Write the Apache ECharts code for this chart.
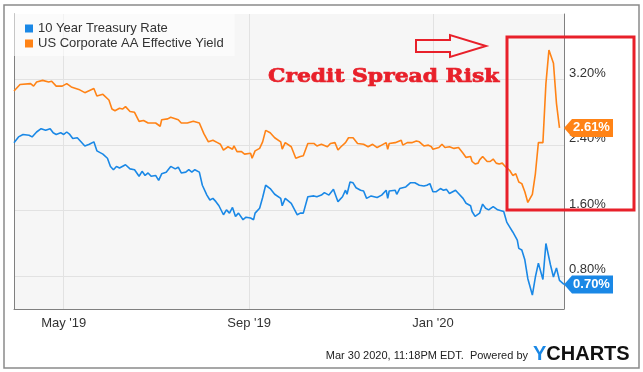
<!DOCTYPE html>
<html><head><meta charset="utf-8">
<script src="https://cdn.jsdelivr.net/npm/echarts@6/dist/echarts.min.js"></script>
<style>html,body{margin:0;padding:0;background:#fff}#c{width:643px;height:372px}</style>
</head><body><div id="c"></div>
<script>
const seriesNames = ['10 Year Treasury Rate', 'US Corporate AA Effective Yield'];
const seriesColors = ['#1a88e6', '#ff8316'];

const treasuryDates = ['2019-03-29','2019-04-01','2019-04-04','2019-04-08','2019-04-10','2019-04-13','2019-04-16','2019-04-19','2019-04-22','2019-04-24','2019-04-26','2019-04-29','2019-05-01','2019-05-03','2019-05-05','2019-05-07','2019-05-10','2019-05-12','2019-05-15','2019-05-18','2019-05-21','2019-05-23','2019-05-27','2019-05-30','2019-06-01','2019-06-03','2019-06-05','2019-06-07','2019-06-11','2019-06-14','2019-06-17','2019-06-20','2019-06-22','2019-06-24','2019-06-26','2019-06-28','2019-07-01','2019-07-03','2019-07-05','2019-07-08','2019-07-11','2019-07-14','2019-07-16','2019-07-18','2019-07-21','2019-07-23','2019-07-25','2019-07-27','2019-07-30','2019-08-01','2019-08-04','2019-08-06','2019-08-08','2019-08-10','2019-08-12','2019-08-15','2019-08-17','2019-08-19','2019-08-21','2019-08-23','2019-08-25','2019-08-28','2019-08-30','2019-09-02','2019-09-04','2019-09-05','2019-09-08','2019-09-10','2019-09-12','2019-09-15','2019-09-18','2019-09-22','2019-09-23','2019-09-25','2019-09-29','2019-10-03','2019-10-05','2019-10-07','2019-10-10','2019-10-14','2019-10-16','2019-10-19','2019-10-21','2019-10-24','2019-10-27','2019-10-28','2019-10-30','2019-11-02','2019-11-04','2019-11-05','2019-11-07','2019-11-09','2019-11-11','2019-11-14','2019-11-16','2019-11-18','2019-11-21','2019-11-25','2019-11-28','2019-12-01','2019-12-02','2019-12-03','2019-12-07','2019-12-08','2019-12-10','2019-12-14','2019-12-17','2019-12-20','2019-12-23','2019-12-26','2019-12-28','2019-12-30','2020-01-01','2020-01-03','2020-01-06','2020-01-08','2020-01-10','2020-01-12','2020-01-16','2020-01-18','2020-01-21','2020-01-23','2020-01-26','2020-01-27','2020-01-29','2020-02-01','2020-02-03','2020-02-05','2020-02-07','2020-02-10','2020-02-13','2020-02-17','2020-02-19','2020-02-21','2020-02-23','2020-02-26','2020-02-27','2020-02-29','2020-03-02','2020-03-04','2020-03-07','2020-03-09','2020-03-11','2020-03-14','2020-03-16','2020-03-19','2020-03-21','2020-03-23','2020-03-25','2020-03-28'];
const treasuryRate = [2.43,2.50,2.53,2.52,2.50,2.56,2.60,2.58,2.60,2.55,2.53,2.55,2.53,2.56,2.53,2.48,2.49,2.45,2.39,2.41,2.44,2.33,2.29,2.24,2.14,2.10,2.14,2.12,2.16,2.11,2.10,2.02,2.08,2.03,2.06,2.02,2.03,1.97,2.05,2.07,2.14,2.11,2.13,2.06,2.07,2.10,2.07,2.10,2.07,1.91,1.79,1.73,1.75,1.71,1.66,1.55,1.61,1.57,1.64,1.53,1.57,1.49,1.52,1.51,1.49,1.57,1.63,1.76,1.91,1.87,1.80,1.75,1.66,1.75,1.69,1.55,1.57,1.57,1.77,1.78,1.77,1.79,1.82,1.79,1.86,1.81,1.71,1.77,1.85,1.80,1.95,1.94,1.88,1.85,1.84,1.75,1.78,1.76,1.79,1.85,1.75,1.84,1.85,1.80,1.87,1.89,1.94,1.94,1.91,1.90,1.91,1.93,1.83,1.83,1.87,1.85,1.86,1.81,1.85,1.81,1.75,1.69,1.66,1.59,1.53,1.57,1.68,1.63,1.61,1.65,1.61,1.59,1.46,1.40,1.34,1.24,1.14,1.12,1.00,0.77,0.57,0.79,0.96,0.76,1.20,0.94,0.79,0.90,0.75,0.70];

const corpDates = ['2019-03-29','2019-04-02','2019-04-09','2019-04-11','2019-04-13','2019-04-17','2019-04-21','2019-04-23','2019-04-26','2019-04-30','2019-05-03','2019-05-06','2019-05-11','2019-05-15','2019-05-21','2019-05-23','2019-05-27','2019-05-31','2019-06-02','2019-06-04','2019-06-07','2019-06-09','2019-06-11','2019-06-14','2019-06-17','2019-06-20','2019-06-23','2019-06-26','2019-07-01','2019-07-04','2019-07-05','2019-07-09','2019-07-11','2019-07-16','2019-07-18','2019-07-22','2019-07-26','2019-07-30','2019-08-02','2019-08-05','2019-08-08','2019-08-11','2019-08-13','2019-08-15','2019-08-18','2019-08-21','2019-08-22','2019-08-24','2019-08-27','2019-08-29','2019-09-02','2019-09-03','2019-09-05','2019-09-08','2019-09-10','2019-09-12','2019-09-15','2019-09-18','2019-09-22','2019-09-23','2019-09-25','2019-09-29','2019-10-02','2019-10-05','2019-10-07','2019-10-10','2019-10-14','2019-10-16','2019-10-19','2019-10-23','2019-10-25','2019-10-28','2019-10-30','2019-11-01','2019-11-04','2019-11-06','2019-11-09','2019-11-12','2019-11-16','2019-11-19','2019-11-22','2019-11-25','2019-11-28','2019-12-01','2019-12-02','2019-12-03','2019-12-07','2019-12-08','2019-12-11','2019-12-12','2019-12-15','2019-12-18','2019-12-21','2019-12-23','2019-12-26','2019-12-29','2019-12-31','2020-01-01','2020-01-05','2020-01-07','2020-01-09','2020-01-12','2020-01-15','2020-01-18','2020-01-21','2020-01-23','2020-01-26','2020-01-27','2020-01-29','2020-01-31','2020-02-01','2020-02-03','2020-02-06','2020-02-08','2020-02-10','2020-02-12','2020-02-14','2020-02-16','2020-02-18','2020-02-21','2020-02-23','2020-02-25','2020-02-27','2020-02-29','2020-03-02','2020-03-04','2020-03-07','2020-03-09','2020-03-11','2020-03-14','2020-03-16','2020-03-18','2020-03-21','2020-03-23','2020-03-25'];
const corpYield = [3.06,3.14,3.15,3.12,3.17,3.19,3.17,3.18,3.12,3.12,3.15,3.11,3.08,3.04,3.09,3.00,3.02,2.95,2.84,2.82,2.85,2.84,2.87,2.81,2.80,2.69,2.70,2.67,2.67,2.63,2.71,2.72,2.74,2.71,2.67,2.67,2.69,2.67,2.54,2.44,2.46,2.43,2.41,2.34,2.38,2.35,2.39,2.32,2.32,2.29,2.30,2.24,2.33,2.36,2.44,2.58,2.55,2.49,2.44,2.35,2.43,2.38,2.24,2.26,2.27,2.42,2.42,2.39,2.41,2.38,2.42,2.43,2.34,2.38,2.43,2.49,2.49,2.42,2.41,2.38,2.41,2.37,2.40,2.43,2.35,2.42,2.43,2.42,2.46,2.40,2.43,2.43,2.45,2.44,2.39,2.40,2.38,2.35,2.37,2.41,2.37,2.38,2.36,2.37,2.30,2.25,2.26,2.20,2.17,2.18,2.22,2.26,2.20,2.20,2.23,2.18,2.17,2.18,2.14,2.09,2.03,2.05,1.95,1.93,1.83,1.70,1.80,2.05,2.43,2.43,3.15,3.56,3.40,2.91,2.61];

const lastValues = [0.70, 2.61];
const xRange = ['2019-03-29', '2020-03-28'];
const xTickDates = ['2019-05-01', '2019-09-01', '2020-01-01'];
const xTickLabels = ["May '19", "Sep '19", "Jan '20"];
const yRange = [0.4, 4.0];
const yTicks = [0.8, 1.6, 2.4, 3.2];

function ts(s) { const p = s.split('-').map(Number); return Date.UTC(p[0], p[1] - 1, p[2]); }
const xTicks = xTickDates.map(ts);
const font = 'Liberation Sans, Arial, sans-serif';
const red = '#e8202a';

const chart = echarts.init(document.getElementById('c'), null, { renderer: 'canvas' });

function tag(i) {
  return {
    silent: true,
    symbol: 'path://M0,9L8,0L49,0L49,18L8,18Z',
    symbolSize: [49, 18],
    symbolOffset: ['50%', 0],
    itemStyle: { color: seriesColors[i] },
    label: { show: true, position: 'inside', offset: [3, 0], color: '#fff', fontWeight: 'bold', fontSize: 13, fontFamily: font,
      formatter: () => lastValues[i].toFixed(2) + '%' },
    data: [{ coord: [ts(xRange[1]), lastValues[i]] }]
  };
}

chart.setOption({
  animation: false,
  backgroundColor: '#fff',
  grid: { left: 14, right: 79, top: 14, bottom: 63, show: true, backgroundColor: '#f6f6f6', borderWidth: 0 },
  legend: {
    left: 14, top: 14, orient: 'vertical', icon: 'rect', itemWidth: 8, itemHeight: 8, itemGap: 2,
    padding: [8, 11, 6, 11], backgroundColor: 'rgba(255,255,255,0.55)',
    textStyle: { fontSize: 13, color: '#333', fontFamily: font },
    data: seriesNames
  },
  xAxis: {
    type: 'value', min: ts(xRange[0]), max: ts(xRange[1]),
    axisLine: { show: true, lineStyle: { color: '#808080', width: 1 } },
    axisTick: { show: false, customValues: xTicks },
    axisLabel: { customValues: xTicks, formatter: (v) => xTickLabels[xTicks.indexOf(v)] || '', color: '#333', fontSize: 13, margin: 8, fontFamily: font },
    splitLine: { show: true, lineStyle: { color: '#e2e2e2', width: 1 } }
  },
  yAxis: [{
    type: 'value', position: 'right', min: yRange[0], max: yRange[1],
    axisLine: { show: true, lineStyle: { color: '#808080' } },
    axisTick: { show: false, customValues: yTicks },
    axisLabel: { customValues: yTicks, formatter: (v) => v.toFixed(2) + '%', color: '#333', fontSize: 13, margin: 5, fontFamily: font, verticalAlign: 'bottom', lineHeight: 13 },
    splitLine: { show: true, lineStyle: { color: '#e2e2e2', width: 1 } }
  }, {
    type: 'value', position: 'left', min: yRange[0], max: yRange[1],
    axisLine: { show: true, lineStyle: { color: '#808080' } },
    axisTick: { show: false }, axisLabel: { show: false }, splitLine: { show: false }
  }],
  series: [{
    name: seriesNames[0], type: 'line', showSymbol: false, color: seriesColors[0],
    lineStyle: { width: 1.6, color: seriesColors[0] },
    data: treasuryDates.map((d, i) => [ts(d), treasuryRate[i]]),
    markPoint: tag(0), z: 3
  }, {
    name: seriesNames[1], type: 'line', showSymbol: false, color: seriesColors[1],
    lineStyle: { width: 1.6, color: seriesColors[1] },
    data: corpDates.map((d, i) => [ts(d), corpYield[i]]),
    markPoint: tag(1), z: 3
  }],
  graphic: [
    { type: 'rect', z: 100, silent: true, shape: { x: 4, y: 5, width: 635, height: 363 }, style: { fill: 'none', stroke: '#8a8a8a', lineWidth: 1.5 } },
    { type: 'rect', z: 100, silent: true, shape: { x: 507, y: 37, width: 127, height: 173 }, style: { fill: 'none', stroke: red, lineWidth: 3 } },
    { type: 'polygon', z: 100, silent: true, shape: { points: [[416, 40], [450, 40], [450, 35], [486, 46], [450, 57], [450, 52], [416, 52]] }, style: { fill: 'none', stroke: red, lineWidth: 2 } },
    { type: 'text', z: 100, silent: true, x: 268, y: 77, scaleX: 1.15, style: { text: 'Credit Spread Risk', fill: red, stroke: red, lineWidth: 0.7, font: 'bold 19px "DejaVu Serif", serif', textVerticalAlign: 'middle' } },
    { type: 'text', z: 100, silent: true, x: 528, y: 356, style: { text: 'Mar 30 2020, 11:18PM EDT.  Powered by', fill: '#222', font: '11px "Liberation Sans", Arial, sans-serif', textAlign: 'right', textVerticalAlign: 'middle' } },
    { type: 'text', z: 100, silent: true, x: 533, y: 354, style: { text: '{a|Y}{b|CHARTS}', textVerticalAlign: 'middle',
      rich: { a: { fill: '#1a88e6', font: 'bold 20px "Liberation Sans", Arial, sans-serif' }, b: { fill: '#111', font: 'bold 20px "Liberation Sans", Arial, sans-serif' } } } }
  ]
});
</script></body></html>
